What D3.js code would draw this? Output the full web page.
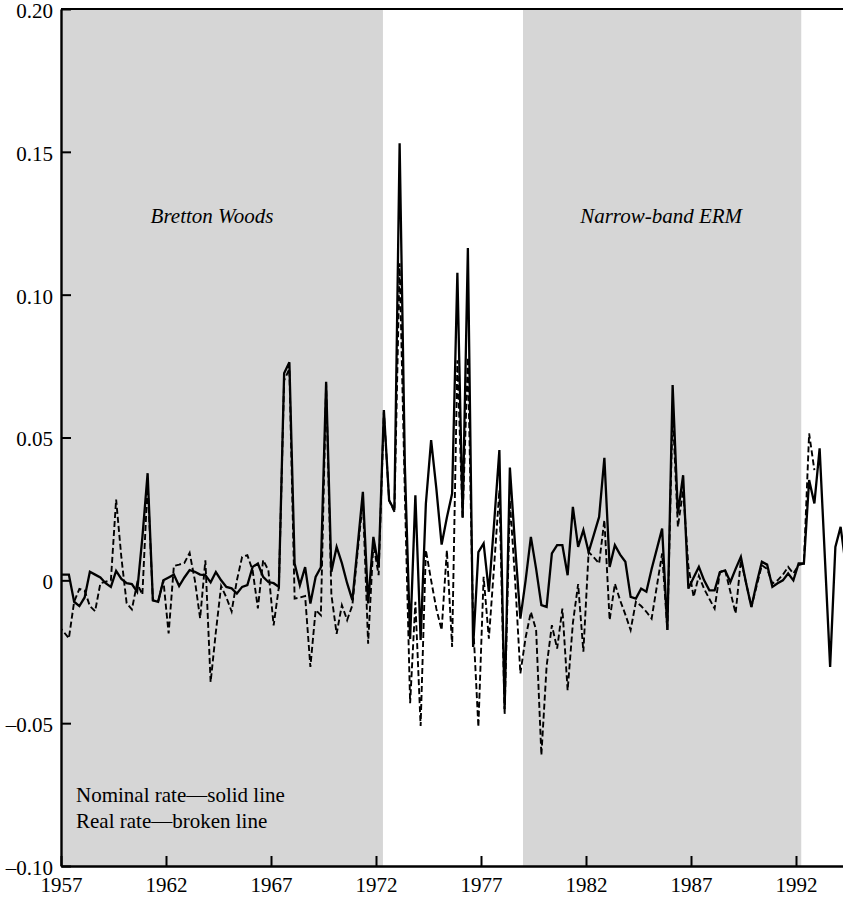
<!DOCTYPE html>
<html>
<head>
<meta charset="utf-8">
<script src="https://cdn.jsdelivr.net/npm/d3@7/dist/d3.min.js"></script>
<style>
  body { margin: 0; background: #fff; }
  svg { display: block; }
</style>
</head>
<body>
<svg id="chart"></svg>
<script>
// quarterly series, first value is 1956 Q4 (plotted mid-quarter)
const firstQuarter = 1956.75;

const nominal = [
  0.002, 0.002, 0.002, -0.0075, -0.009, -0.006, 0.003, 0.002, 0.001, -0.001,
  -0.0023, 0.0033, 0.0005, -0.001, -0.0013, -0.004, 0.015, 0.0375, -0.007, -0.0075,
  0.0, 0.001, 0.002, -0.002, 0.001, 0.0036, 0.003, 0.002, 0.0018, -0.0007,
  0.0029, 0.0, -0.0023, -0.0028, -0.0046, -0.0023, -0.0017, 0.0047, 0.0059, 0.0012,
  -0.0006, -0.001, -0.0023, 0.0725, 0.0763, 0.0059, -0.0017, 0.0046, -0.0081, 0.0012,
  0.0046, 0.0695, 0.003, 0.0117, 0.006, -0.001, -0.0069, 0.012, 0.031, -0.0081,
  0.0152, 0.0047, 0.0596, 0.028, 0.0245, 0.153, 0.04, -0.0205, 0.0298, -0.0209,
  0.0269, 0.0491, 0.032, 0.0125, 0.022, 0.0304, 0.1077, 0.022, 0.1163, -0.0233,
  0.0099, 0.0129, -0.004, 0.02, 0.0456, -0.045, 0.0395, 0.012, -0.0134, 0.0,
  0.0152, 0.004, -0.0087, -0.0093, 0.0094, 0.0123, 0.0123, 0.0018, 0.0257, 0.0117,
  0.0176, 0.0099, 0.016, 0.0222, 0.0429, 0.0047, 0.0123, 0.009, 0.0065, -0.0058,
  -0.0064, -0.0029, -0.004, 0.004, 0.011, 0.0181, -0.0174, 0.0684, 0.0234, 0.0368,
  -0.0029, 0.001, 0.0047, 0.0, -0.0035, -0.0035, 0.0029, 0.0035, -0.0006, 0.004,
  0.0082, -0.001, -0.0093, -0.001, 0.0065, 0.0055, -0.0023, -0.001, 0.0, 0.0024,
  0.0, 0.0059, 0.0059, 0.0351, 0.0269, 0.0462, 0.008, -0.0303, 0.0117, 0.0187,
  0.0047
];

const real = [
  -0.016, -0.018, -0.0203, -0.0075, -0.003, -0.0036, -0.009, -0.0108, -0.001, -0.0005,
  0.0, 0.0283, 0.008, -0.008, -0.0102, -0.001, -0.005, 0.034, -0.007, -0.0075,
  0.0, -0.0186, 0.005, 0.0055, 0.0061, 0.0096, 0.0, -0.0133, 0.007, -0.0356,
  -0.018, -0.002, -0.006, -0.0109, 0.0, 0.0082, 0.0088, 0.0035, -0.0098, 0.0071,
  0.0035, -0.0158, -0.0023, 0.07, 0.074, -0.0064, -0.006, -0.0055, -0.0303, -0.0104,
  -0.0122, 0.0687, -0.005, -0.0187, -0.0087, -0.0139, -0.0087, 0.01, 0.028, -0.0222,
  0.0129, 0.0018, 0.059, 0.028, 0.024, 0.111, 0.03, -0.043, -0.0075, -0.051,
  0.0106, 0.0, -0.01, -0.0174, 0.0105, -0.0233, 0.077, 0.0216, 0.078, -0.015,
  -0.0513, 0.0012, -0.0204, 0.005, 0.0316, -0.047, 0.028, 0.0, -0.0326, -0.02,
  -0.0111, -0.0174, -0.0612, -0.03, -0.0157, -0.0239, -0.0099, -0.0385, -0.015, -0.0013,
  -0.025, 0.0099, 0.008, 0.0059, 0.0211, -0.0139, -0.0012, -0.007, -0.012, -0.0174,
  -0.0075, -0.009, -0.011, -0.0134, -0.002, 0.0094, -0.0174, 0.06, 0.0187, 0.0316,
  0.005, -0.0058, 0.0016, -0.003, -0.0065, -0.0099, 0.0029, 0.0035, -0.004, -0.0116,
  0.0071, -0.001, -0.0093, -0.002, 0.0053, 0.004, -0.0011, 0.0, 0.002, 0.0047,
  0.0024, 0.0053, 0.0059, 0.0514, 0.0386
];

const regimeNames = ["Bretton Woods", "Narrow-band ERM"];
const regimeStart = [1957, 1979.0];
const regimeEnd = [1972.33, 1992.25];

const xTicks = [1957, 1962, 1967, 1972, 1977, 1982, 1987, 1992];
const yTicks = [-0.10, -0.05, 0, 0.05, 0.10, 0.15, 0.20];
const yTickLabels = ["\u20130.10", "\u20130.05", "0", "0.05", "0.10", "0.15", "0.20"];

const legendLines = ["Nominal rate\u2014solid line", "Real rate\u2014broken line"];

// ---- layout
const width = 843, height = 898;
const plotLeft = 61, plotTop = 9, plotBottom = 866;
const pxPerYear = 21;
const serif = "'Liberation Serif', 'Times New Roman', serif";

const svg = d3.select("#chart")
  .attr("width", width)
  .attr("height", height);

const x = d3.scaleLinear()
  .domain([1957, 1995])
  .range([plotLeft, plotLeft + 38 * pxPerYear]);

const y = d3.scaleLinear()
  .domain([-0.10, 0.20])
  .range([plotBottom, plotTop]);

const xRight = x.range()[1];

svg.append("defs").append("clipPath")
  .attr("id", "plot-clip")
  .append("rect")
  .attr("x", plotLeft)
  .attr("y", plotTop)
  .attr("width", xRight - plotLeft)
  .attr("height", plotBottom - plotTop);

// shaded exchange-rate regimes
svg.append("g")
  .selectAll("rect")
  .data(regimeNames)
  .join("rect")
  .attr("x", (d, i) => x(regimeStart[i]))
  .attr("y", plotTop)
  .attr("width", (d, i) => x(regimeEnd[i]) - x(regimeStart[i]))
  .attr("height", plotBottom - plotTop)
  .attr("fill", "#d6d6d6");

// regime labels
const labelShift = [-10, -1];
svg.append("g")
  .selectAll("text")
  .data(regimeNames)
  .join("text")
  .attr("x", (d, i) => (x(regimeStart[i]) + x(regimeEnd[i])) / 2 + labelShift[i])
  .attr("y", 223)
  .attr("text-anchor", "middle")
  .attr("fill", "#000")
  .style("font-family", serif)
  .style("font-style", "italic")
  .style("font-size", "21px")
  .text(d => d);

// lines
const line = d3.line()
  .x((d, i) => x(firstQuarter + i / 4 + 0.125))
  .y(d => y(d));

const plot = svg.append("g").attr("clip-path", "url(#plot-clip)");

plot.append("path")
  .datum(real)
  .attr("d", line)
  .attr("fill", "none")
  .attr("stroke", "#000")
  .attr("stroke-width", 1.9)
  .attr("stroke-dasharray", "6,3")
  .attr("stroke-linejoin", "miter");

plot.append("path")
  .datum(nominal)
  .attr("d", line)
  .attr("fill", "none")
  .attr("stroke", "#000")
  .attr("stroke-width", 2.3)
  .attr("stroke-linejoin", "miter");

// top border
svg.append("line")
  .attr("x1", plotLeft).attr("x2", width)
  .attr("y1", plotTop).attr("y2", plotTop)
  .attr("stroke", "#000")
  .attr("stroke-width", 1.8);

// axes
const yAxis = d3.axisLeft(y)
  .tickValues(yTicks)
  .tickFormat((d, i) => yTickLabels[i])
  .tickSize(-10)
  .tickSizeOuter(0)
  .tickPadding(8);

const xAxis = d3.axisBottom(x)
  .tickValues(xTicks)
  .tickFormat(d3.format("d"))
  .tickSize(-10)
  .tickSizeOuter(0)
  .tickPadding(11);

const gy = svg.append("g")
  .attr("transform", `translate(${plotLeft},0)`)
  .call(yAxis);

const gx = svg.append("g")
  .attr("transform", `translate(0,${plotBottom})`)
  .call(xAxis);

[gx, gy].forEach(g => {
  g.select(".domain").attr("stroke", "#000").attr("stroke-width", 2.4);
  g.selectAll(".tick line").attr("stroke", "#000").attr("stroke-width", 2);
  g.selectAll(".tick text")
    .attr("fill", "#000")
    .style("font-family", serif)
    .style("font-size", "21px");
});
// keep the top label inside the page
gy.selectAll(".tick text").attr("dy", "0.4em");

// legend text
svg.append("g")
  .selectAll("text")
  .data(legendLines)
  .join("text")
  .attr("x", 76)
  .attr("y", (d, i) => 802 + i * 26)
  .style("font-family", serif)
  .style("font-size", "21px")
  .attr("fill", "#000")
  .text(d => d);
</script>
</body>
</html>
